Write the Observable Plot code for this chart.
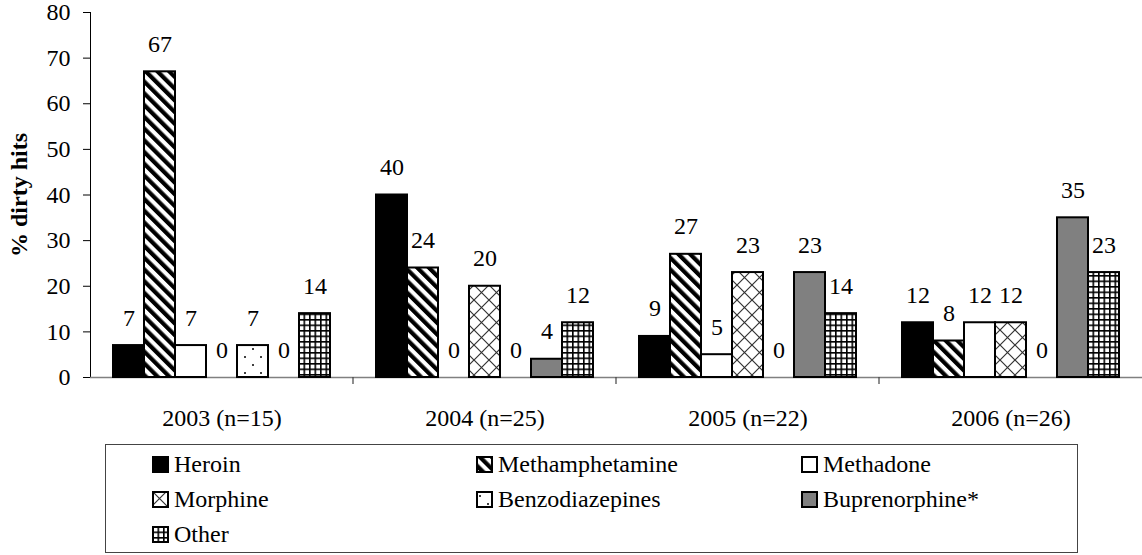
<!DOCTYPE html>
<html><head><meta charset="utf-8">
<script src="https://cdn.jsdelivr.net/npm/d3@7"></script>
<script src="https://cdn.jsdelivr.net/npm/@observablehq/plot@0.6"></script>
<style>
body{margin:0;background:#fff;}
#wrap{position:relative;width:1142px;height:555px;overflow:hidden;}
[aria-label="y-axis label"]{font-weight:bold;}
#defs{position:absolute;left:0;top:0;width:0;height:0;}
#legend{position:absolute;left:105px;top:444px;width:973px;height:109px;box-sizing:border-box;border:1.5px solid #444;padding:2px 0 0 46px;display:grid;grid-template-columns:324px 325px 1fr;grid-auto-rows:35px;font-size:24px;color:#000;font-family:'Liberation Serif';}
.item{display:flex;align-items:center;gap:5px;white-space:nowrap;}
.item svg{flex:none;}
</style></head><body>
<div id="wrap">
<svg id="defs" width="0" height="0">
  <defs>
    <pattern id="p-meth" patternUnits="userSpaceOnUse" width="8.3" height="8.3" patternTransform="rotate(-45)">
      <rect width="8.3" height="8.3" fill="white"/><rect width="4.2" height="8.3" fill="black"/>
    </pattern>
    <pattern id="p-morph" patternUnits="userSpaceOnUse" width="15" height="15">
      <rect width="15" height="15" fill="white"/>
      <path d="M0,0L15,15M15,0L0,15" stroke="#333" stroke-width="1.2"/>
    </pattern>
    <pattern id="p-benzo" patternUnits="userSpaceOnUse" width="16" height="16">
      <rect width="16" height="16" fill="white"/>
      <circle cx="4" cy="5" r="1" fill="black"/><circle cx="12" cy="13" r="1" fill="black"/>
    </pattern>
    <pattern id="p-other" patternUnits="userSpaceOnUse" width="5.5" height="5.5">
      <rect width="5.5" height="5.5" fill="white"/>
      <rect width="1.6" height="5.5" fill="black"/><rect width="5.5" height="1.6" fill="black"/>
    </pattern>
  </defs>
</svg>
<div id="chart"></div>
<div id="legend"></div>
</div>
<script>
const drugs = ["Heroin", "Methamphetamine", "Methadone", "Morphine", "Benzodiazepines", "Buprenorphine*", "Other"];
const years = ["2003", "2004", "2005", "2006"];
const sampleSizes = [15, 25, 22, 26];
const values2003 = [7, 67, 7, 0, 7, 0, 14];
const values2004 = [40, 24, 0, 20, 0, 4, 12];
const values2005 = [9, 27, 5, 23, 0, 23, 14];
const values2006 = [12, 8, 12, 12, 0, 35, 23];
const yTicks = [0, 10, 20, 30, 40, 50, 60, 70, 80];
const yLabel = "% dirty hits";
const fills = ["black", "url(#p-meth)", "white", "url(#p-morph)", "url(#p-benzo)", "#808080", "url(#p-other)"];

const series = [values2003, values2004, values2005, values2006];
const data = [];
years.forEach((yr, i) => drugs.forEach((dr, j) => data.push({year: yr, drug: dr, value: series[i][j]})));
const yearLabel = d => `${d} (n=${sampleSizes[years.indexOf(d)]})`;

const chart = Plot.plot({
  width: 1142,
  height: 432,
  marginTop: 12,
  marginBottom: 55,
  marginLeft: 89,
  marginRight: 0,
  style: {fontFamily: "Liberation Serif", fontSize: "24px", color: "black", background: "white", overflow: "visible"},
  fx: {domain: years, padding: 0, label: null, tickSize: 0, tickPadding: 31, tickFormat: yearLabel},
  x: {domain: drugs, paddingInner: 0, paddingOuter: 0.74, axis: null},
  y: {domain: [0, 80], ticks: yTicks, tickSize: 7, tickPadding: 13, line: true, label: yLabel, labelArrow: "none", labelAnchor: "center", labelOffset: 81},
  color: {type: "ordinal", domain: drugs, range: fills},
  marks: [
    Plot.ruleY([0], {stroke: "#808080", strokeWidth: 1.5}),
    Plot.barY(data.filter(d => d.value > 0), {fx: "year", x: "drug", y: "value", fill: "drug", stroke: "black", strokeWidth: 2}),
    Plot.text(data, {fx: "year", x: "drug", y: "value", text: d => String(d.value), dy: -20, lineAnchor: "bottom", fill: "black"})
  ]
});
document.getElementById("chart").appendChild(chart);
const svg = d3.select(chart);
svg.selectAll('[aria-label="y-axis label"] text').text(yLabel);

const fx = chart.scale("fx");
const y0 = chart.scale("y").apply(0);
years.slice(1).forEach(yr => {
  const x = fx.apply(yr);
  svg.append("line").attr("x1", x).attr("x2", x).attr("y1", y0).attr("y2", y0 + 7)
    .attr("stroke", "#444").attr("stroke-width", 1.2);
});

const legend = d3.select("#legend");
drugs.forEach((dr, j) => {
  const item = legend.append("div").attr("class", "item");
  const s = item.append("svg").attr("width", 17).attr("height", 17);
  s.append("rect").attr("x", 1).attr("y", 1).attr("width", 15).attr("height", 15)
    .attr("fill", fills[j]).attr("stroke", "black").attr("stroke-width", 2);
  item.append("span").text(dr);
});
</script>
</body></html>
